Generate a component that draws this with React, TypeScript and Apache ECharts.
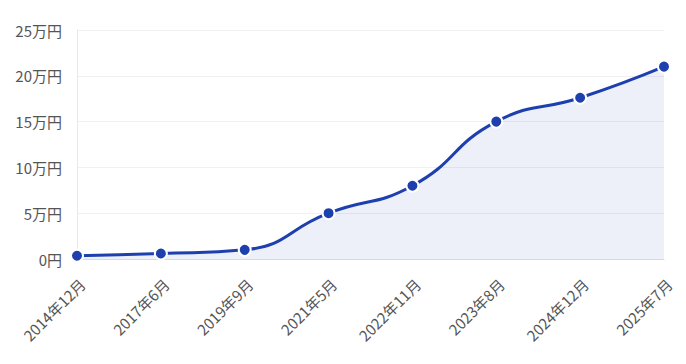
import React, { useEffect, useRef } from "react";
import * as echarts from "echarts";

const categories = ["2014年12月", "2017年6月", "2019年9月", "2021年5月", "2022年11月", "2023年8月", "2024年12月", "2025年7月"];
const values = [3500, 6000, 10000, 50000, 80000, 150000, 176000, 210000];
const yTicks = [0, 50000, 100000, 150000, 200000, 250000];

const FONT = "'Noto Sans CJK JP', sans-serif";

export default function App() {
  const ref = useRef<HTMLDivElement>(null);
  useEffect(() => {
    if (!ref.current) return;
    const chart = echarts.init(ref.current, undefined, { renderer: "svg" });
    chart.setOption({
      animation: false,
      textStyle: { fontFamily: FONT },
      grid: { left: 77, right: 22, top: 30, bottom: 105 },
      xAxis: {
        type: "category",
        data: categories,
        boundaryGap: false,
        axisLine: { lineStyle: { color: "#d9d9d9" } },
        axisTick: { show: false },
        axisLabel: {
          rotate: 45,
          color: "#555",
          fontSize: 15,
          margin: 17,
          align: "right",
          verticalAlign: "top",
          fontFamily: FONT,
        },
      },
      yAxis: {
        type: "value",
        min: yTicks[0],
        max: yTicks[yTicks.length - 1],
        interval: 50000,
        axisLine: { show: true, lineStyle: { color: "#e8e8e8" } },
        axisTick: { show: false },
        splitLine: { lineStyle: { color: "#f0f0f0" } },
        axisLabel: {
          color: "#555",
          fontSize: 15,
          margin: 15,
          fontFamily: FONT,
          formatter: (v: number) => (v === 0 ? "0円" : `${v / 10000}万円`),
        },
      },
      series: [
        {
          type: "line",
          data: values,
          smooth: true,
          symbol: "circle",
          symbolSize: 12,
          lineStyle: { color: "#1e40af", width: 3 },
          itemStyle: { color: "#1e40af", borderColor: "#fff", borderWidth: 2 },
          areaStyle: { color: "rgba(30,64,175,0.11)" },
        },
      ],
    });
    return () => chart.dispose();
  }, []);
  return <div ref={ref} style={{ width: 686, height: 364, margin: -8 }} />;
}
